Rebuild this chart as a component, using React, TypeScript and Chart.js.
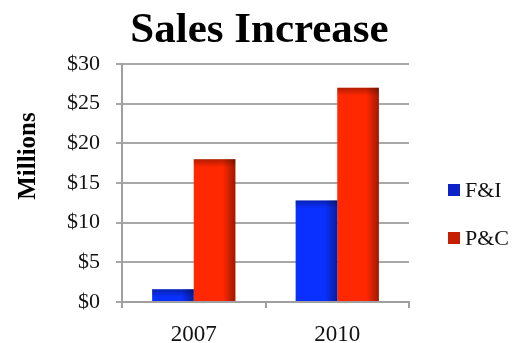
import React, { useEffect, useRef } from "react";
import { Chart, registerables } from "chart.js";

Chart.register(...registerables);

const categories = ["2007", "2010"];
const seriesNames = ["F&I", "P&C"];
const fiValues = [1.6, 12.8];
const pcValues = [18.0, 27.0];
const yTickMax = 30;
const yTickStep = 5;
const yAxisTitle = "Millions";

const SERIF = "'Liberation Serif', 'Times New Roman', serif";
const barColors = ["#0a30ff", "#ff2800"];
const legendColors = ["#0a22c8", "#c81e00"];

const shadePlugin = {
  id: "barShade",
  afterDatasetsDraw(chart: any) {
    const ctx = chart.ctx;
    chart.data.datasets.forEach((_ds: any, di: number) => {
      const meta = chart.getDatasetMeta(di);
      meta.data.forEach((bar: any) => {
        const { x, y, base, width } = bar.getProps(["x", "y", "base", "width"], true);
        const left = x - width / 2;
        const right = x + width / 2;
        const top = Math.min(y, base);
        const h = Math.abs(base - y);
        ctx.save();
        const gx = ctx.createLinearGradient(right - width * 0.3, 0, right, 0);
        gx.addColorStop(0, "rgba(0,0,0,0)");
        gx.addColorStop(1, "rgba(0,0,0,0.38)");
        ctx.fillStyle = gx;
        ctx.fillRect(right - width * 0.3, top, width * 0.3, h);
        const th = Math.min(8, h);
        const gy = ctx.createLinearGradient(0, top, 0, top + th);
        gy.addColorStop(0, "rgba(0,0,0,0.3)");
        gy.addColorStop(1, "rgba(0,0,0,0)");
        ctx.fillStyle = gy;
        ctx.fillRect(left, top, width, th);
        ctx.restore();
      });
    });
  },
};

// Legend (right side) and y-axis title, placed relative to the plot area
const sideTextPlugin = {
  id: "sideText",
  afterDraw(chart: any) {
    const ctx = chart.ctx;
    const area = chart.chartArea;
    const boxX = area.right + 39;
    const firstY = area.top + 126;
    const step = 48;
    ctx.save();
    chart.data.datasets.forEach((ds: any, i: number) => {
      const cy = firstY + i * step;
      ctx.fillStyle = legendColors[i];
      ctx.fillRect(boxX, cy - 6, 12, 12);
      ctx.fillStyle = "#111";
      ctx.font = "22px " + SERIF;
      ctx.textBaseline = "middle";
      ctx.textAlign = "left";
      ctx.fillText(ds.label, boxX + 17, cy + 1);
    });
    // y-axis title
    ctx.translate(area.left - 93, area.top + 92);
    ctx.rotate(-Math.PI / 2);
    ctx.fillStyle = "#000";
    ctx.font = "bold 25px " + SERIF;
    ctx.textAlign = "center";
    ctx.textBaseline = "middle";
    ctx.fillText(yAxisTitle, 0, 0);
    ctx.restore();
  },
};

export default function App() {
  const ref = useRef<HTMLCanvasElement | null>(null);

  useEffect(() => {
    document.body.style.margin = "0";
    const canvas = ref.current;
    if (!canvas) return;
    const chart = new Chart(canvas, {
      type: "bar",
      data: {
        labels: categories,
        datasets: [
          { label: seriesNames[0], data: fiValues, backgroundColor: barColors[0], borderWidth: 0 },
          { label: seriesNames[1], data: pcValues, backgroundColor: barColors[1], borderWidth: 0 },
        ],
      },
      options: {
        animation: false,
        responsive: false,
        maintainAspectRatio: false,
        layout: { padding: { left: 0, right: 0, top: 0, bottom: 0 } },
        datasets: {
          bar: { categoryPercentage: 0.58, barPercentage: 1.0 },
        },
        plugins: {
          title: {
            display: true,
            text: "Sales Increase",
            color: "#000",
            font: { family: SERIF, size: 43, weight: "bold" },
            padding: { top: 5, bottom: 7.4 },
          },
          legend: { display: false },
          tooltip: { enabled: false },
        },
        scales: {
          x: {
            offset: true,
            grid: {
              display: true,
              offset: true,
              drawOnChartArea: false,
              drawTicks: true,
              tickLength: 6,
              color: "#a0a0a0",
              lineWidth: 2,
            },
            border: { display: true, color: "#a0a0a0", width: 2 },
            ticks: {
              color: "#111",
              font: { family: SERIF, size: 23 },
              padding: 13,
            },
            afterFit: (s: any) => {
              s.height = 41;
            },
          },
          y: {
            min: 0,
            max: yTickMax,
            grid: {
              color: "#a8a8a8",
              lineWidth: 2,
              drawTicks: true,
              tickLength: 6,
            },
            border: { display: true, color: "#a0a0a0", width: 2 },
            ticks: {
              stepSize: yTickStep,
              color: "#111",
              padding: 16,
              font: { family: SERIF, size: 22 },
              callback: (v: any) => "$" + v,
            },
            afterFit: (s: any) => {
              s.width = 122;
            },
          },
          yRight: {
            type: "linear",
            position: "right",
            display: true,
            grid: { display: false, drawTicks: false },
            border: { display: false },
            ticks: { display: false },
            afterFit: (s: any) => {
              s.width = 110;
            },
          },
        },
      },
      plugins: [shadePlugin, sideTextPlugin],
    } as any);
    return () => chart.destroy();
  }, []);

  return (
    <div style={{ width: 519, height: 343, position: "relative" }}>
      <canvas ref={ref} width={519} height={343} style={{ display: "block" }} />
    </div>
  );
}
